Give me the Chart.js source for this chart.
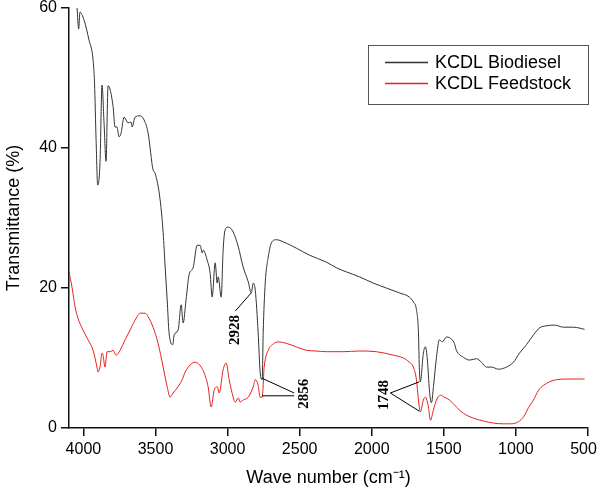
<!DOCTYPE html>
<html>
<head>
<meta charset="utf-8">
<script src="https://cdn.jsdelivr.net/npm/chart.js@4.4.1/dist/chart.umd.min.js"></script>
<style>
  html, body { margin: 0; padding: 0; background: #fff; }
</style>
</head>
<body>
<canvas id="ftir" width="600" height="494"></canvas>
<script>
const xTicks = [4000, 3500, 3000, 2500, 2000, 1500, 1000, 500]
const yTicks = [0, 20, 40, 60]
const seriesNames = ['KCDL Biodiesel', 'KCDL Feedstock']
const seriesColors = ['#333333', '#e8221e']

// wave number (cm-1) and transmittance (%)
const bioWave = [4044, 4033, 4024, 3996, 3961, 3933, 3923, 3912, 3901, 3885,
  3871, 3857, 3843, 3829, 3794, 3781, 3767, 3753, 3739, 3718,
  3690, 3669, 3662, 3642, 3607, 3579, 3551, 3517, 3503, 3468,
  3447, 3433, 3419, 3406, 3380, 3371, 3343, 3322, 3308, 3288,
  3267, 3239, 3211, 3190, 3176, 3169, 3142, 3121, 3107, 3086,
  3072, 3065, 3044, 3031, 3017, 2996, 2961, 2926, 2892, 2857,
  2836, 2822, 2808, 2788, 2774, 2760, 2753, 2739, 2718, 2697,
  2663, 2593, 2524, 2433, 2315, 2246, 2176, 2086, 1989, 1899,
  1808, 1739, 1711, 1690, 1676, 1670, 1663, 1642, 1628, 1614,
  1600, 1586, 1572, 1551, 1531, 1510, 1482, 1461, 1427, 1413,
  1364, 1322, 1274, 1239, 1204, 1169, 1121, 1065, 1017, 975,
  927, 878, 836, 788, 732, 670, 600, 524]
const bioT = [60.0, 57.0, 59.4, 58.3, 55.4, 52.6, 49.3, 41.1, 34.7, 37.9,
  49.0, 43.6, 38.1, 48.9, 45.9, 43.0, 43.0, 41.6, 42.1, 44.4,
  43.6, 43.7, 43.0, 44.4, 44.6, 44.0, 42.1, 36.9, 36.4, 32.6,
  27.9, 23.0, 18.3, 13.6, 11.9, 13.3, 14.0, 17.6, 15.0, 18.3,
  21.9, 22.9, 26.1, 26.1, 25.0, 25.4, 24.0, 22.1, 18.7, 23.6,
  20.7, 21.6, 18.7, 25.4, 28.3, 28.7, 28.0, 25.9, 23.0, 20.9,
  19.3, 20.7, 19.7, 13.6, 7.9, 6.9, 13.6, 20.7, 24.4, 26.4,
  26.9, 26.4, 25.7, 24.7, 23.7, 22.9, 22.3, 21.6, 20.7, 20.0,
  19.3, 18.7, 18.0, 16.9, 13.6, 8.7, 6.6, 10.7, 11.6, 9.7,
  5.4, 3.6, 5.9, 10.1, 12.6, 12.3, 13.0, 12.9, 12.1, 11.1,
  10.1, 9.7, 9.9, 9.4, 8.7, 8.7, 8.4, 8.7, 9.4, 10.7,
  11.9, 13.3, 14.3, 14.6, 14.7, 14.4, 14.4, 14.1]

const feedWave = [4100, 4079, 4058, 4038, 4003, 3968, 3933, 3906, 3899, 3885,
  3871, 3864, 3850, 3836, 3815, 3794, 3774, 3746, 3711, 3676,
  3642, 3607, 3572, 3551, 3517, 3482, 3447, 3419, 3399, 3378,
  3343, 3315, 3294, 3260, 3225, 3183, 3163, 3135, 3114, 3093,
  3072, 3058, 3031, 3010, 2989, 2961, 2947, 2926, 2913, 2892,
  2857, 2822, 2808, 2788, 2774, 2760, 2746, 2718, 2683, 2649,
  2593, 2524, 2454, 2385, 2315, 2197, 2086, 1968, 1850, 1781,
  1739, 1711, 1690, 1676, 1663, 1642, 1628, 1607, 1593, 1572,
  1551, 1524, 1496, 1461, 1427, 1413, 1364, 1294, 1225, 1156,
  1086, 1031, 982, 947, 913, 878, 843, 808, 767, 718,
  649, 579, 524]
const feedT = [22.3, 20.1, 17.3, 15.7, 14.0, 12.6, 11.1, 8.7, 8.0, 8.7,
  10.7, 10.4, 8.7, 10.9, 10.9, 11.1, 10.4, 11.1, 12.6, 14.0,
  15.4, 16.4, 16.4, 15.9, 14.4, 12.1, 8.7, 5.9, 4.4, 5.0,
  5.9, 6.9, 8.0, 9.0, 9.4, 8.7, 7.9, 5.9, 3.0, 5.4,
  5.9, 5.0, 8.3, 9.3, 6.9, 4.4, 3.7, 4.3, 3.7, 4.0,
  4.4, 5.9, 6.9, 6.1, 4.4, 4.4, 8.7, 11.1, 12.0, 12.3,
  12.1, 11.6, 11.1, 11.0, 10.9, 10.9, 11.0, 10.9, 10.4, 10.0,
  9.4, 8.7, 6.9, 4.0, 2.3, 4.0, 4.4, 3.0, 1.1, 2.6,
  4.0, 4.7, 4.4, 4.0, 3.3, 3.0, 2.1, 1.4, 1.0, 0.7,
  0.6, 0.6, 0.9, 1.6, 2.9, 4.0, 5.4, 6.1, 6.6, 6.9,
  7.0, 7.0, 7.0]

const peakNames = ['2928', '2856', '1748']

const sans = '"Liberation Sans", Arial, sans-serif'

// peak labels with their leader lines, placed in data units
const peakNotes = {
  id: 'peakNotes',
  afterDatasetsDraw (chart) {
    const { ctx } = chart
    const sx = chart.scales.x
    const sy = chart.scales.y
    const px = p => [sx.getPixelForValue(p[0]), sy.getPixelForValue(p[1])]
    const notes = [
      { at: [2947, 14.0], lines: [[[2947, 16.7], [2836, 19.3]]] },
      { at: [2468, 4.9], lines: [[[2538, 5.0], [2760, 7.1]], [[2538, 4.6], [2760, 4.6]]] },
      { at: [1916, 4.7], lines: [[[1871, 5.0], [1670, 6.6]], [[1871, 5.0], [1670, 2.4]]] }
    ]
    ctx.save()
    ctx.strokeStyle = '#000'
    ctx.lineWidth = 1
    notes.forEach((n, i) => {
      n.lines.forEach(l => {
        ctx.beginPath()
        l.forEach((p, j) => {
          const [a, b] = px(p)
          if (j === 0) ctx.moveTo(a, b)
          else ctx.lineTo(a, b)
        })
        ctx.stroke()
      })
      const [tx, ty] = px(n.at)
      ctx.save()
      ctx.translate(tx, ty)
      ctx.rotate(-Math.PI / 2)
      ctx.font = 'bold 15px "Liberation Serif", "Times New Roman", serif'
      ctx.fillStyle = '#000'
      ctx.textAlign = 'center'
      ctx.textBaseline = 'middle'
      ctx.fillText(peakNames[i], 0, 0)
      ctx.restore()
    })
    ctx.restore()
  }
}

const boxLegend = {
  id: 'boxLegend',
  afterDraw (chart) {
    const { ctx, chartArea } = chart
    const w = 220
    const h = 59
    const left = Math.round(chartArea.right) - w
    const top = Math.round(chartArea.top) + 37
    ctx.save()
    ctx.lineWidth = 1
    ctx.strokeStyle = '#555'
    ctx.strokeRect(left + 0.5, top + 0.5, w, h)
    ctx.font = '18px ' + sans
    ctx.textBaseline = 'middle'
    seriesNames.forEach((name, i) => {
      const yy = top + 17 + i * 21
      ctx.strokeStyle = seriesColors[i]
      ctx.lineWidth = 1.4
      ctx.beginPath()
      ctx.moveTo(left + 17, yy + 0.5)
      ctx.lineTo(left + 60, yy + 0.5)
      ctx.stroke()
      ctx.fillStyle = '#000'
      ctx.fillText(name, left + 67, yy + 1.5)
    })
    ctx.restore()
  }
}

// fixed axis sizes, and no extra room reserved for overhanging tick labels
function fixSize (prop, size) {
  return s => {
    s[prop] = size
    s.paddingTop = 0
    s.paddingBottom = 0
    s.paddingLeft = 0
    s.paddingRight = 0
  }
}

function axisBase (ticks) {
  return {
    type: 'linear',
    grid: { drawOnChartArea: false, drawTicks: true, tickLength: 8, color: '#111', lineWidth: 1.5 },
    border: { color: '#111', width: 1.5 },
    ticks: { color: '#000', font: { family: sans, size: 16 }, padding: 4, callback: v => String(v) },
    afterBuildTicks: s => { s.ticks = ticks.map(v => ({ value: v })) }
  }
}

const xAxis = Object.assign(axisBase(xTicks), {
  reverse: true,
  min: 500,
  max: 4100,
  afterFit: fixSize('height', 66),
  title: { display: true, text: 'Wave number (cm⁻¹)', color: '#000', font: { family: sans, size: 18 }, padding: { top: 0, bottom: 5 } }
})
// the last label sits inside the canvas edge, as in the original figure
xAxis.ticks.callback = v => v === 500 ? '500\u2007' : String(v)

const yAxis = Object.assign(axisBase(yTicks), {
  min: 0,
  max: 60,
  afterFit: fixSize('width', 69),
  title: { display: true, text: 'Transmittance (%)', color: '#000', font: { family: sans, size: 18 }, padding: { top: 3, bottom: 0 } }
})

new Chart(document.getElementById('ftir'), {
  type: 'line',
  data: {
    datasets: [
      {
        label: seriesNames[0],
        data: bioWave.map((w, i) => ({ x: w, y: bioT[i] })),
        borderColor: seriesColors[0],
        borderWidth: 1,
        pointRadius: 0,
        cubicInterpolationMode: 'monotone'
      },
      {
        label: seriesNames[1],
        data: feedWave.map((w, i) => ({ x: w, y: feedT[i] })),
        borderColor: seriesColors[1],
        borderWidth: 1,
        pointRadius: 0,
        cubicInterpolationMode: 'monotone'
      }
    ]
  },
  options: {
    responsive: false,
    animation: false,
    devicePixelRatio: 1,
    layout: { padding: { top: 8, right: 12, left: 0, bottom: 0 } },
    plugins: { legend: { display: false }, tooltip: { enabled: false } },
    scales: { x: xAxis, y: yAxis }
  },
  plugins: [peakNotes, boxLegend]
})
</script>
</body>
</html>
